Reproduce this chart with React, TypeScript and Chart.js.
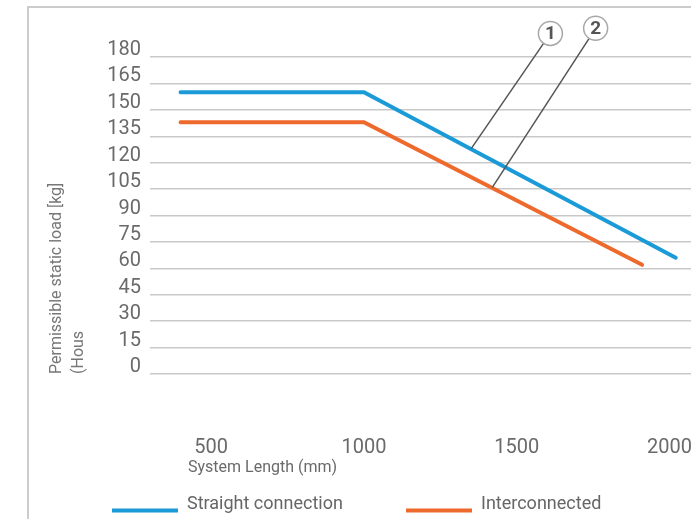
import React, { useEffect, useRef } from 'react';
import { Chart, registerables } from 'chart.js';

Chart.register(...registerables);

// ---- data ----
const straightLength = [400, 1000, 2020];
const straightLoad = [160, 160, 66];
const interLength = [400, 1000, 1910];
const interLoad = [143, 143, 62];
const seriesNames = ['Straight connection', 'Interconnected'];
const seriesColors = ['#1b9ad8', '#ee6a2c'];
const xTickValues = [500, 1000, 1500, 2000];
const yMin = 0;
const yMax = 180;
const yStep = 15;
const xTitle = 'System Length (mm)';
const yTitleLines = ['Permissible static load [kg]', '(Hous'];
const calloutLabels = ['1', '2'];
const calloutTargetLength = [1351, 1420];
const calloutTargetLoad = [128, 106];
const calloutBubbleLength = [1610, 1758];
const calloutBubbleLoad = [193.4, 196.3];

const FONT = 'Roboto, "DejaVu Sans", sans-serif';

const calloutPlugin = {
  id: 'callouts',
  afterDatasetsDraw(chart: any) {
    const { ctx, scales } = chart;
    const x = scales.x;
    const y = scales.y;
    ctx.save();
    calloutLabels.forEach((lab, i) => {
      const tx = x.getPixelForValue(calloutTargetLength[i]);
      const ty = y.getPixelForValue(calloutTargetLoad[i]);
      const bx = x.getPixelForValue(calloutBubbleLength[i]);
      const by = y.getPixelForValue(calloutBubbleLoad[i]);
      ctx.strokeStyle = '#555';
      ctx.lineWidth = 1.5;
      ctx.beginPath();
      ctx.moveTo(tx, ty);
      ctx.lineTo(bx, by);
      ctx.stroke();
      ctx.beginPath();
      ctx.arc(bx, by, 12, 0, Math.PI * 2);
      ctx.fillStyle = '#fff';
      ctx.fill();
      ctx.strokeStyle = '#a8a8a8';
      ctx.lineWidth = 1.5;
      ctx.stroke();
      ctx.fillStyle = '#555';
      ctx.font = `bold 19px ${FONT}`;
      ctx.textAlign = 'center';
      ctx.textBaseline = 'middle';
      ctx.fillText(lab, bx, by + 1);
    });
    ctx.restore();
  },
};

const xTitlePlugin = {
  id: 'xTitleText',
  afterDraw(chart: any, _args: any, opts: any) {
    const { ctx, chartArea } = chart;
    ctx.save();
    ctx.fillStyle = '#6a6a6a';
    ctx.font = `16px ${FONT}`;
    ctx.textAlign = 'left';
    ctx.textBaseline = 'alphabetic';
    ctx.fillText(xTitle, chartArea.left + opts.dx, chartArea.bottom + opts.dy);
    ctx.restore();
  },
};

const legendPlugin = {
  id: 'bottomLegend',
  afterDraw(chart: any, _args: any, opts: any) {
    const { ctx } = chart;
    ctx.save();
    chart.data.datasets.forEach((ds: any, i: number) => {
      const x0 = opts.itemX[i];
      ctx.strokeStyle = ds.borderColor;
      ctx.lineWidth = 4;
      ctx.beginPath();
      ctx.moveTo(x0, opts.lineY);
      ctx.lineTo(x0 + opts.lineLength, opts.lineY);
      ctx.stroke();
      ctx.fillStyle = '#666';
      ctx.font = `18px ${FONT}`;
      ctx.textAlign = 'left';
      ctx.textBaseline = 'alphabetic';
      ctx.fillText(ds.label, x0 + opts.lineLength + opts.gap, opts.baselineY);
    });
    ctx.restore();
  },
};

export default function App() {
  const canvasRef = useRef<HTMLCanvasElement | null>(null);

  useEffect(() => {
    if (!canvasRef.current) return;
    const chart = new Chart(canvasRef.current, {
      type: 'line',
      data: {
        datasets: [
          {
            label: seriesNames[0],
            data: straightLength.map((v, i) => ({ x: v, y: straightLoad[i] })),
            borderColor: seriesColors[0],
            backgroundColor: seriesColors[0],
            borderWidth: 4,
            pointRadius: 0,
            borderCapStyle: 'round',
            tension: 0,
          },
          {
            label: seriesNames[1],
            data: interLength.map((v, i) => ({ x: v, y: interLoad[i] })),
            borderColor: seriesColors[1],
            backgroundColor: seriesColors[1],
            borderWidth: 4,
            pointRadius: 0,
            borderCapStyle: 'round',
            tension: 0,
          },
        ],
      },
      plugins: [calloutPlugin, xTitlePlugin, legendPlugin],
      options: {
        responsive: false,
        animation: false,
        layout: { padding: { top: 57, left: 0, right: 0, bottom: 0 } },
        plugins: {
          legend: { display: false },
          title: { display: false },
          tooltip: { enabled: false },
          xTitleText: { dx: 38, dy: 98 },
          bottomLegend: { itemX: [112, 406], lineLength: 66, gap: 9, lineY: 510.5, baselineY: 509 },
        } as any,
        scales: {
          x: {
            type: 'linear',
            min: 300,
            max: 2070,
            afterBuildTicks: (scale: any) => {
              scale.ticks = xTickValues.map((v) => ({ value: v }));
            },
            afterFit: (scale: any) => {
              scale.height = 145;
              scale.paddingLeft = 0;
              scale.paddingRight = 0;
            },
            grid: { display: false, drawTicks: true, tickLength: 62 },
            border: { display: false },
            ticks: {
              padding: 0,
              color: '#6a6a6a',
              font: { family: FONT, size: 20 },
              maxRotation: 0,
              autoSkip: false,
              callback: (v: any) => String(v),
            },
          },
          y: {
            type: 'linear',
            min: yMin,
            max: yMax,
            afterFit: (scale: any) => {
              scale.width = 150;
            },
            grid: { color: '#c9c9c9', lineWidth: 1.5, drawTicks: false },
            border: { display: false },
            ticks: {
              stepSize: yStep,
              autoSkip: false,
              padding: 9,
              labelOffset: -7,
              color: '#6a6a6a',
              font: { family: FONT, size: 20 },
              callback: (v: any) => String(v),
            },
            title: {
              display: true,
              text: yTitleLines,
              align: 'start',
              color: '#777',
              font: { family: FONT, size: 16, lineHeight: 1.375 },
              padding: { top: 46, bottom: 0 },
            },
          },
        },
      },
    } as any);
    return () => chart.destroy();
  }, []);

  return (
    <div style={{ position: 'fixed', left: 0, top: 0, width: 691, height: 519, background: '#fff' }}>
      <div
        style={{
          position: 'absolute',
          left: 27,
          top: 6,
          right: 0,
          bottom: 0,
          borderLeft: '2px solid #cccccc',
          borderTop: '2px solid #cccccc',
        }}
      />
      <canvas
        ref={canvasRef}
        width={691}
        height={519}
        style={{ position: 'absolute', left: 0, top: 0, display: 'block' }}
      />
    </div>
  );
}
